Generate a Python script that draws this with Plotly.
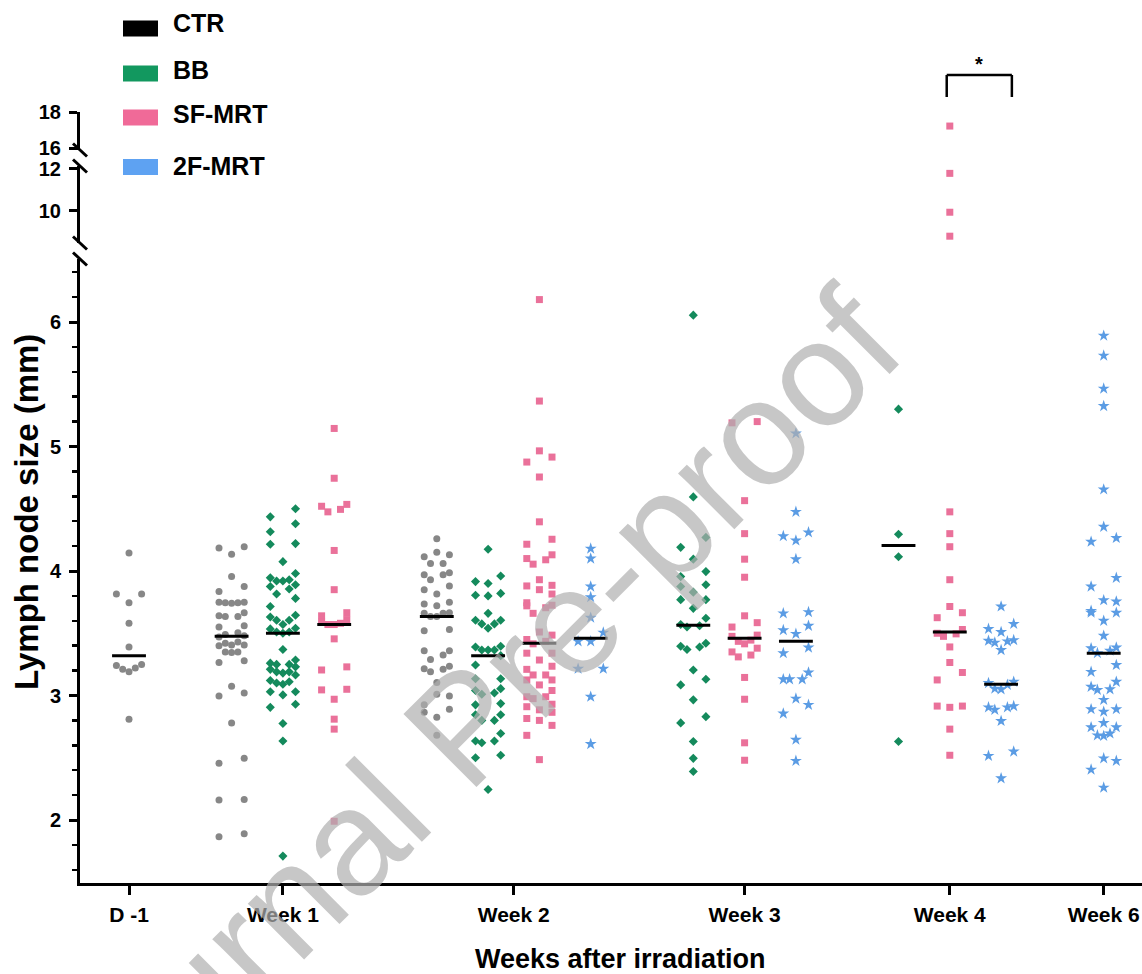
import plotly.graph_objects as go

# ---------------- data ----------------
weeks = ["D -1", "Week 1", "Week 2", "Week 3", "Week 4", "Week 6"]
groups = ["CTR", "BB", "SF-MRT", "2F-MRT"]

ctr_dm1 = [4.145, 3.815, 3.815, 3.745, 3.58, 3.39, 3.25, 3.22, 3.19, 3.21, 3.24, 2.81]
ctr_w1 = [4.195, 4.135, 4.185, 3.955, 3.835, 3.875, 3.75, 3.745, 3.74, 3.745, 3.75,
          3.64, 3.635, 3.635, 3.665, 3.56, 3.505, 3.55, 3.49, 3.48, 3.47, 3.42, 3.405,
          3.40, 3.405, 3.43, 3.35, 3.345, 3.35, 3.265, 3.28, 3.075, 2.995, 3.02, 2.78,
          2.455, 2.495, 2.16, 2.165, 1.865, 1.89]
ctr_w2 = [4.26, 4.15, 4.115, 4.06, 4.06, 4.13, 3.97, 3.985, 3.93, 3.97, 3.85, 3.88,
          3.815, 3.735, 3.75, 3.72, 3.66, 3.665, 3.635, 3.635, 3.66, 3.52, 3.53, 3.36,
          3.36, 3.325, 3.29, 3.215, 3.19, 3.21, 3.235, 3.105, 3.01, 2.995, 2.89, 2.925,
          2.865, 2.825, 2.68]

bb_w1 = [4.50, 4.38, 4.435, 4.315, 4.215, 4.22, 4.075, 3.98, 3.93, 3.92, 3.92, 3.945,
         3.89, 3.855, 3.815, 3.875, 3.78, 3.715, 3.645, 3.605, 3.57, 3.605, 3.63, 3.535,
         3.51, 3.50, 3.51, 3.54, 3.37, 3.26, 3.21, 3.23, 3.25, 3.25, 3.285, 3.19, 3.18,
         3.165, 3.19, 3.12, 3.11, 3.10, 3.09, 3.03, 3.005, 3.03, 2.93, 2.905, 2.775,
         2.635, 1.71]
bb_w2 = [4.175, 3.96, 3.90, 3.915, 3.82, 3.80, 3.805, 3.66, 3.605, 3.575, 3.54, 3.575,
         3.605, 3.39, 3.365, 3.365, 3.365, 3.395, 3.32, 3.245, 3.135, 3.135, 3.04, 3.01,
         3.02, 3.055, 2.925, 2.935, 2.845, 2.80, 2.80, 2.845, 2.695, 2.635, 2.62, 2.635,
         2.50, 2.52, 2.245]
bb_w3 = [6.055, 4.595, 4.27, 4.19, 4.095, 3.995, 3.955, 3.89, 3.875, 3.83, 3.77, 3.77,
         3.70, 3.62, 3.57, 3.55, 3.56, 3.39, 3.37, 3.395, 3.42, 3.205, 3.085, 3.13, 2.965,
         2.83, 2.78, 2.63, 2.495, 2.39]
bb_w4 = [5.30, 4.295, 4.115, 2.63]

sf_w1 = [5.145, 4.745, 4.52, 4.475, 4.495, 4.535, 4.165, 3.85, 3.64, 3.665, 3.57, 3.57,
         3.58, 3.59, 3.61, 3.455, 3.205, 3.23, 3.045, 3.05, 2.97, 2.81, 2.73, 1.99]
sf_w2 = [6.18, 5.365, 4.965, 4.875, 4.915, 4.755, 4.395, 4.215, 4.255, 4.10, 4.055, 4.09,
         4.13, 3.93, 3.88, 3.815, 3.85, 3.885, 3.745, 3.725, 3.66, 3.705, 3.72, 3.51,
         3.485, 3.435, 3.45, 3.415, 3.34, 3.285, 3.34, 3.235, 3.21, 3.165, 3.125, 3.085,
         3.125, 3.165, 3.04, 2.99, 2.975, 2.99, 2.91, 2.865, 2.885, 2.93, 2.80, 2.815,
         2.76, 2.68, 2.485]
sf_w3 = [5.19, 5.20, 4.565, 4.30, 4.095, 3.95, 3.64, 3.55, 3.585, 3.475, 3.415, 3.435,
         3.445, 3.485, 3.38, 3.35, 3.31, 3.325, 3.145, 2.97, 2.62, 2.48]
sf_w4 = [17.22, 11.79, 9.94, 8.80, 4.475, 4.30, 4.195, 3.93, 3.715, 3.665, 3.625, 3.50,
         3.475, 3.495, 3.53, 3.39, 3.265, 3.125, 3.185, 2.915, 2.905, 2.915, 2.73, 2.52]

tf_w2 = [4.18, 4.10, 3.875, 3.79, 3.625, 3.505, 3.435, 3.435, 3.215, 3.215, 2.99, 2.61]
tf_w3 = [5.105, 4.475, 4.31, 4.245, 4.28, 4.095, 3.66, 3.67, 3.56, 3.495, 3.525, 3.34,
         3.385, 3.13, 3.13, 3.13, 3.185, 2.925, 2.975, 2.855, 2.645, 2.475]
tf_w4 = [3.715, 3.575, 3.51, 3.535, 3.445, 3.435, 3.425, 3.44, 3.365, 3.10, 3.085, 3.05,
         3.055, 3.11, 2.905, 2.885, 2.905, 2.915, 2.795, 2.515, 2.55, 2.335]
tf_w6 = [5.89, 5.73, 5.465, 5.325, 4.655, 4.355, 4.235, 4.265, 3.945, 3.875, 3.755, 3.765,
         3.68, 3.665, 3.665, 3.60, 3.48, 3.38, 3.34, 3.36, 3.385, 3.245, 3.19, 3.11, 3.07,
         3.045, 3.05, 2.965, 2.89, 2.87, 2.89, 2.78, 2.745, 2.695, 2.675, 2.68, 2.745,
         2.475, 2.495, 2.405, 2.26]

# medians (horizontal bars)
med_ctr = [3.32, 3.475, 3.635]          # D -1, Week 1, Week 2
med_bb = [3.50, 3.32, 3.565, 4.205]     # Week 1 .. Week 4
med_sf = [3.57, 3.42, 3.46, 3.51]       # Week 1 .. Week 4
med_2f = [3.46, 3.435, 3.09, 3.34]      # Week 2, 3, 4, 6

ctr_weeks = ["D -1", "Week 1", "Week 2"]
bb_weeks = ["Week 1", "Week 2", "Week 3", "Week 4"]
sf_weeks = ["Week 1", "Week 2", "Week 3", "Week 4"]
tf_weeks = ["Week 2", "Week 3", "Week 4", "Week 6"]

ctr_series = [ctr_dm1, ctr_w1, ctr_w2]
bb_series = [bb_w1, bb_w2, bb_w3, bb_w4]
sf_series = [sf_w1, sf_w2, sf_w3, sf_w4]
tf_series = [tf_w2, tf_w3, tf_w4, tf_w6]

# ---------------- styling ----------------
FONT = "Arial, Liberation Sans, sans-serif"
marker_style = {
    "CTR": dict(symbol="circle", size=7, color="#878787"),
    "BB": dict(symbol="diamond", size=7, color="#148a5c"),
    "SF-MRT": dict(symbol="square", size=7, color="#ea719a"),
    "2F-MRT": dict(symbol="star", size=9, color="#5b9ce4"),
}
legend_color = {"CTR": "#000000", "BB": "#12985f", "SF-MRT": "#f06a98", "2F-MRT": "#5ea2f2"}

# the page's body margin is removed by a post script, so the figure starts at (0, 0)
W, H = 1142, 974
ML = 80
PH = 883                # x axis line at window row 883, top margin 0
MB = H - PH
PW = W - ML

def py(p):             # window pixel row -> paper y
    return (PH - p) / PH

def px(p):             # window pixel column -> paper x
    return (p - ML) / PW

# ---------------- layout of the columns ----------------
by_group = {
    "CTR": dict(zip(ctr_weeks, zip(ctr_series, med_ctr))),
    "BB": dict(zip(bb_weeks, zip(bb_series, med_bb))),
    "SF-MRT": dict(zip(sf_weeks, zip(sf_series, med_sf))),
    "2F-MRT": dict(zip(tf_weeks, zip(tf_series, med_2f))),
}

columns = []      # (week, group, pos)
week_center = {}
cursor = 0
for wk in weeks:
    pos_list = []
    for g in groups:
        if wk in by_group[g]:
            columns.append((wk, g, cursor))
            pos_list.append(cursor)
            cursor += 1
    week_center[wk] = sum(pos_list) / len(pos_list)
    cursor += 1

slot_px = 51.3
x_lo = -(129 - ML) / slot_px
x_hi = x_lo + PW / slot_px

# axis segments (value ranges)
seg_bottom = dict(lo=1.494, hi=6.506, dom=(0.0, py(259)))
seg_mid = dict(lo=8.476, hi=12.14, dom=(py(243), py(166)))
seg_top = dict(lo=15.89, hi=18.0, dom=(py(150), py(112)))

def axis_of(v):
    if v <= seg_bottom["hi"]:
        return "y"
    if v <= seg_mid["hi"]:
        return "y2"
    return "y3"

# beeswarm: rows of up to 5 points on a fixed 5-slot grid, lowest value in the middle
ROW_H = 0.08
SLOT = 6.3 / slot_px
patterns = {1: [0], 2: [-2, 2], 3: [-2, 0, 2], 4: [-2, -1, 1, 2], 5: [-2, -1, 0, 1, 2]}

def swarm(vals):
    order = sorted(range(len(vals)), key=lambda i: vals[i])
    rows, cur = [], []
    for i in order:
        if cur and (vals[i] - vals[cur[0]] > ROW_H or len(cur) >= 5):
            rows.append(cur)
            cur = []
        cur.append(i)
    if cur:
        rows.append(cur)
    offs = [0.0] * len(vals)
    for r in rows:
        slots = sorted(patterns[len(r)], key=lambda s: (abs(s), s))
        for k, i in enumerate(r):
            offs[i] = slots[k] * SLOT
    return offs

fig = go.Figure()

points = {g: {"y": ([], []), "y2": ([], []), "y3": ([], [])} for g in groups}
med_x, med_y = [], []
for wk, g, pos in columns:
    vals, med = by_group[g][wk]
    offs = swarm(vals)
    for v, o in zip(vals, offs):
        ax = axis_of(v)
        points[g][ax][0].append(pos + o)
        points[g][ax][1].append(v)
    med_x += [pos - 0.33, pos + 0.33, None]
    med_y += [med, med, None]

for g in groups:
    for ax in ["y", "y2", "y3"]:
        xs, ys = points[g][ax]
        if not xs:
            continue
        fig.add_trace(go.Scatter(
            x=xs, y=ys, mode="markers", yaxis=ax, showlegend=False,
            marker=dict(symbol=marker_style[g]["symbol"], size=marker_style[g]["size"],
                        color=marker_style[g]["color"], line=dict(width=0)),
            name=g, hoverinfo="skip"))

fig.add_trace(go.Scatter(x=med_x, y=med_y, mode="lines", yaxis="y", showlegend=False,
                         line=dict(color="black", width=3), hoverinfo="skip"))

tickfont = dict(family=FONT, size=20, color="black", weight="bold")
common_y = dict(showline=True, linecolor="black", linewidth=3, ticks="outside",
                ticklen=8, tickwidth=3, tickcolor="black", showgrid=False,
                zeroline=False, anchor="x", tickfont=tickfont, ticklabelstandoff=4,
                automargin=False, fixedrange=True)

fig.update_layout(
    width=W, height=H,
    margin=dict(l=ML, r=0, t=0, b=MB),
    plot_bgcolor="white", paper_bgcolor="white",
    showlegend=False,
    xaxis=dict(range=[x_lo, x_hi], showline=True, linecolor="black", linewidth=3,
               ticks="outside", ticklen=9, tickwidth=3, tickcolor="black",
               tickvals=[week_center[w] for w in weeks], ticktext=weeks,
               tickfont=dict(family=FONT, size=21, color="black", weight="bold"),
               showgrid=False, zeroline=False, automargin=False, ticklabelstandoff=2),
    yaxis=dict(domain=list(seg_bottom["dom"]), range=[seg_bottom["lo"], seg_bottom["hi"]],
               tickvals=[2, 3, 4, 5, 6],
               minor=dict(dtick=0.2, tick0=0, ticks="outside", ticklen=5, tickwidth=2.5,
                          tickcolor="black", showgrid=False),
               **common_y),
    yaxis2=dict(domain=list(seg_mid["dom"]), range=[seg_mid["lo"], seg_mid["hi"]],
                tickvals=[10, 12], **common_y),
    yaxis3=dict(domain=list(seg_top["dom"]), range=[seg_top["lo"], seg_top["hi"]],
                tickvals=[16, 18], **common_y),
)

shapes = []
# axis break slashes
for c in [150, 166, 243, 259]:
    shapes.append(dict(type="line", xref="paper", yref="paper",
                       x0=px(73), y0=py(c - 6.5), x1=px(87), y1=py(c + 6.5),
                       line=dict(color="black", width=3)))
# legend swatches
legend_rows = [(28.5, 23), (73.5, 70), (117.5, 113.5), (167, 166)]
for g, (ry, ty) in zip(groups, legend_rows):
    shapes.append(dict(type="rect", xref="paper", yref="paper",
                       x0=px(123), x1=px(158), y0=py(ry - 8), y1=py(ry + 8),
                       fillcolor=legend_color[g], line=dict(width=0)))
# significance bracket (Week 4: SF-MRT vs 2F-MRT)
pos_sf4 = [p for wk, g, p in columns if wk == "Week 4" and g == "SF-MRT"][0]
pos_tf4 = [p for wk, g, p in columns if wk == "Week 4" and g == "2F-MRT"][0]
bx0, bx1 = pos_sf4 - 0.06, pos_tf4 + 0.21
for (xa, ya, xb, yb) in [(bx0, py(97), bx0, py(75)), (bx0, py(75), bx1, py(75)),
                         (bx1, py(75), bx1, py(97))]:
    shapes.append(dict(type="line", xref="x", yref="paper", x0=xa, y0=ya, x1=xb, y1=yb,
                       line=dict(color="black", width=2.5)))
fig.update_layout(shapes=shapes)

annotations = []
for g, (ry, ty) in zip(groups, legend_rows):
    annotations.append(dict(text=g, xref="paper", yref="paper", x=px(171), y=py(ty),
                            xanchor="left", yanchor="middle", showarrow=False,
                            font=dict(family=FONT, size=25, color="black", weight="bold")))
annotations.append(dict(text="*", xref="x", yref="paper", x=(bx0 + bx1) / 2, y=py(64),
                        xanchor="center", yanchor="middle", showarrow=False,
                        font=dict(family=FONT, size=20, color="black", weight="bold")))
annotations.append(dict(text="Lymph node size (mm)", xref="paper", yref="paper",
                        x=px(27), y=py(512), textangle=-90, xanchor="center",
                        yanchor="middle", showarrow=False,
                        font=dict(family=FONT, size=33, color="black", weight="bold")))
annotations.append(dict(text="Weeks after irradiation", xref="paper", yref="paper",
                        x=px(620), y=py(959), xanchor="center", yanchor="middle",
                        showarrow=False,
                        font=dict(family=FONT, size=27, color="black", weight="bold")))
# watermark
annotations.append(dict(text="Journal Pre-proof", xref="paper", yref="paper",
                        x=px(463), y=py(727), textangle=-45, xanchor="center",
                        yanchor="middle", showarrow=False,
                        font=dict(family=FONT, size=150, color="rgba(175,175,175,0.7)")))
fig.update_layout(annotations=annotations)

fig.write_html("out.html", config={"displayModeBar": False, "staticPlot": True},
               post_script="document.body.style.margin='0';document.body.style.overflow='hidden';")
